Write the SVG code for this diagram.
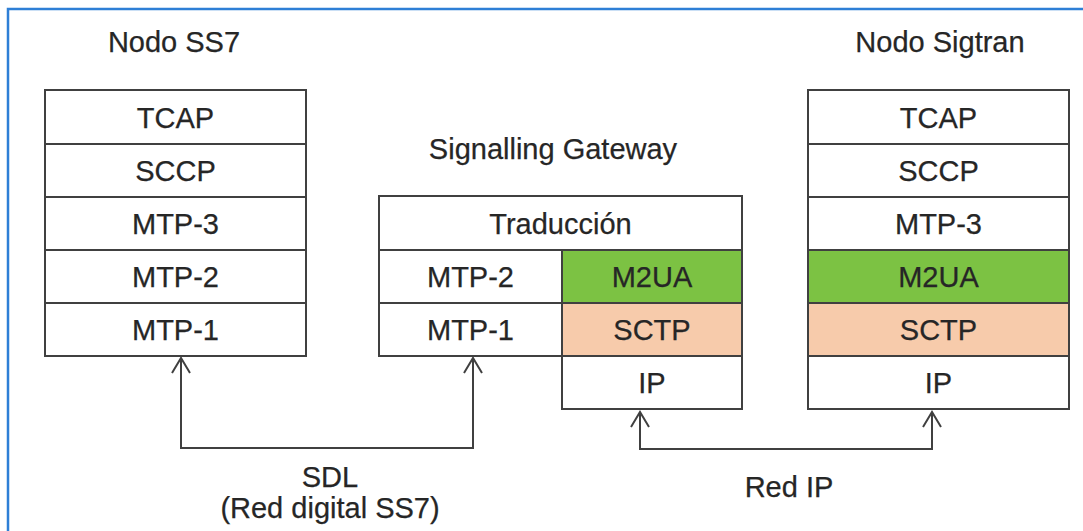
<svg xmlns="http://www.w3.org/2000/svg" width="1083" height="531" viewBox="0 0 1083 531">
<defs>
<style>
.t{font-family:"Liberation Sans",Arial,sans-serif;font-size:29px;fill:#262626;stroke:#262626;stroke-width:0.25;text-anchor:middle}
.b{fill:#fff;stroke:#404040;stroke-width:2}
.g{fill:#7cc243;stroke:#404040;stroke-width:2}
.p{fill:#f7cbab;stroke:#404040;stroke-width:2}
.c{fill:none;stroke:#404040;stroke-width:2}
</style>
<marker id="ah" viewBox="0 0 20 20" refX="17" refY="10" markerWidth="20" markerHeight="20" markerUnits="userSpaceOnUse" orient="auto-start-reverse">
<path d="M2,1 L17,10 L2,19" fill="none" stroke="#404040" stroke-width="2"/>
</marker>
</defs>
<rect width="1083" height="531" fill="#fff"/>
<path d="M8,531 L8,9 L1083,9" fill="none" stroke="#2e7fd6" stroke-width="2.5"/>

<g id="ss7">
<text class="t" x="174" y="52">Nodo SS7</text>
<rect class="b" x="45" y="90" width="261" height="54"/>
<text class="t" x="175.5" y="127.5">TCAP</text>
<rect class="b" x="45" y="144" width="261" height="53"/>
<text class="t" x="175.5" y="180.5">SCCP</text>
<rect class="b" x="45" y="197" width="261" height="53"/>
<text class="t" x="175.5" y="233.5">MTP-3</text>
<rect class="b" x="45" y="250" width="261" height="53"/>
<text class="t" x="175.5" y="286.5">MTP-2</text>
<rect class="b" x="45" y="303" width="261" height="53"/>
<text class="t" x="175.5" y="339.5">MTP-1</text>
</g>

<g id="gateway">
<text class="t" x="553" y="159">Signalling Gateway</text>
<rect class="b" x="379" y="196" width="363" height="54"/>
<text class="t" x="560.5" y="233.5">Traducción</text>
<rect class="b" x="379" y="250" width="183" height="53"/>
<text class="t" x="470.5" y="286.5">MTP-2</text>
<rect class="b" x="379" y="303" width="183" height="53"/>
<text class="t" x="470.5" y="339.5">MTP-1</text>
<rect class="g" x="562" y="250" width="180" height="53"/>
<text class="t" x="652" y="286.5">M2UA</text>
<rect class="p" x="562" y="303" width="180" height="53"/>
<text class="t" x="652" y="339.5">SCTP</text>
<rect class="b" x="562" y="356" width="180" height="53"/>
<text class="t" x="652" y="392.5">IP</text>
</g>

<g id="sigtran">
<text class="t" x="940" y="52">Nodo Sigtran</text>
<rect class="b" x="808" y="90" width="261" height="54"/>
<text class="t" x="938.5" y="127.5">TCAP</text>
<rect class="b" x="808" y="144" width="261" height="53"/>
<text class="t" x="938.5" y="180.5">SCCP</text>
<rect class="b" x="808" y="197" width="261" height="53"/>
<text class="t" x="938.5" y="233.5">MTP-3</text>
<rect class="g" x="808" y="250" width="261" height="53"/>
<text class="t" x="938.5" y="286.5">M2UA</text>
<rect class="p" x="808" y="303" width="261" height="53"/>
<text class="t" x="938.5" y="339.5">SCTP</text>
<rect class="b" x="808" y="356" width="261" height="53"/>
<text class="t" x="938.5" y="392.5">IP</text>
</g>

<g id="connectors">
<path class="c" d="M181,358 L181,448 L473,448 L473,358" marker-start="url(#ah)" marker-end="url(#ah)"/>
<path class="c" d="M640,412 L640,449 L932,449 L932,412" marker-start="url(#ah)" marker-end="url(#ah)"/>
</g>

<g id="labels">
<text class="t" x="330" y="487">SDL</text>
<text class="t" x="330" y="518">(Red digital SS7)</text>
<text class="t" x="789" y="497">Red IP</text>
</g>
</svg>
